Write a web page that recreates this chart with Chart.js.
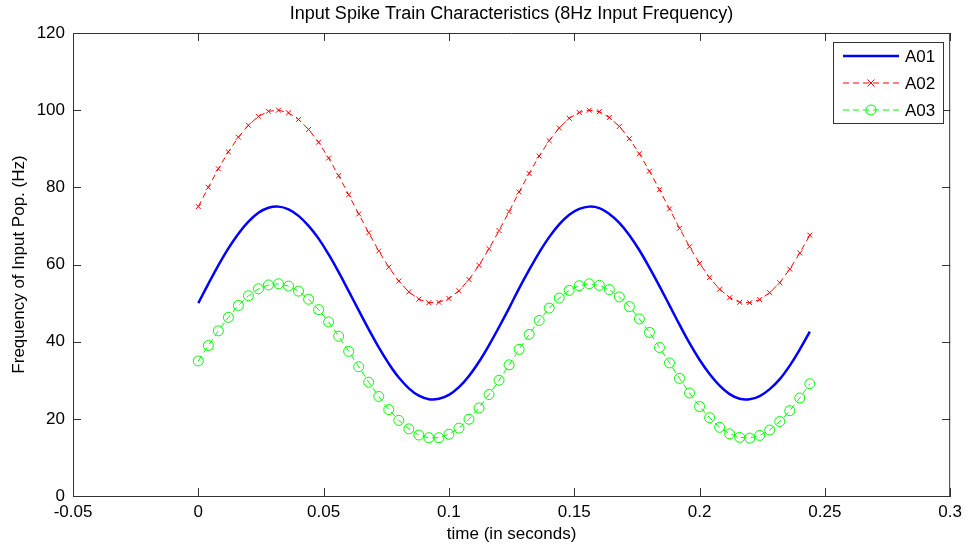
<!DOCTYPE html>
<html>
<head>
<meta charset="utf-8">
<script src="https://cdn.jsdelivr.net/npm/chart.js@4.4.1/dist/chart.umd.min.js"></script>
<style>
html,body{margin:0;padding:0;background:#fff;}
#wrap{width:968px;height:549px;position:relative;}
</style>
</head>
<body>
<div id="wrap"><canvas id="c" width="968" height="549"></canvas></div>
<script>
const titleText = 'Input Spike Train Characteristics (8Hz Input Frequency)';
const xTitle = 'time (in seconds)';
const yTitle = 'Frequency of Input Pop. (Hz)';
const seriesNames = ['A01', 'A02', 'A03'];
const xTickLabels = ['-0.05', '0', '0.05', '0.1', '0.15', '0.2', '0.25', '0.3'];
const yTickLabels = ['0', '20', '40', '60', '80', '100', '120'];

const timeVals = [0.000,0.004,0.008,0.012,0.016,0.020,0.024,0.028,0.032,0.036,
  0.040,0.044,0.048,0.052,0.056,0.060,0.064,0.068,0.072,0.076,
  0.080,0.084,0.088,0.092,0.096,0.100,0.104,0.108,0.112,0.116,
  0.120,0.124,0.128,0.132,0.136,0.140,0.144,0.148,0.152,0.156,
  0.160,0.164,0.168,0.172,0.176,0.180,0.184,0.188,0.192,0.196,
  0.200,0.204,0.208,0.212,0.216,0.220,0.224,0.228,0.232,0.236,
  0.240,0.244];

const a01 = [50.0,55.0,59.8,64.2,68.0,71.1,73.4,74.7,75.0,74.3,
  72.6,70.0,66.7,62.6,58.0,53.1,48.1,43.2,38.5,34.3,
  30.7,27.9,26.0,25.1,25.2,26.2,28.2,31.1,34.8,39.1,
  43.8,48.7,53.8,58.6,63.1,67.1,70.4,72.9,74.4,75.0,
  74.6,73.1,70.8,67.6,63.7,59.2,54.4,49.4,44.4,39.6,
  35.3,31.6,28.6,26.4,25.2,25.1,25.9,27.7,30.3,33.8,
  38.0,42.6];

const a02 = [75.0,80.0,84.8,89.2,93.0,96.1,98.4,99.7,100.0,99.3,
  97.6,95.0,91.7,87.6,83.0,78.1,73.1,68.2,63.5,59.3,
  55.7,52.9,51.0,50.1,50.2,51.2,53.2,56.1,59.8,64.1,
  68.8,73.7,78.8,83.6,88.1,92.1,95.4,97.9,99.4,100.0,
  99.6,98.1,95.8,92.6,88.7,84.2,79.4,74.4,69.4,64.6,
  60.3,56.6,53.6,51.4,50.2,50.1,50.9,52.7,55.3,58.8,
  63.0,67.6];

const a03 = [35.0,39.0,42.8,46.3,49.4,51.9,53.7,54.7,55.0,54.4,
  53.1,51.0,48.3,45.1,41.4,37.5,33.5,29.5,25.8,22.4,
  19.6,17.4,15.8,15.1,15.1,16.0,17.6,19.9,22.8,26.3,
  30.0,34.0,38.0,41.9,45.5,48.7,51.3,53.3,54.5,55.0,
  54.6,53.5,51.6,49.1,45.9,42.4,38.5,34.5,30.5,26.7,
  23.2,20.3,17.8,16.1,15.2,15.0,15.7,17.1,19.3,22.1,
  25.4,29.1];

function pairs(ys){ return timeVals.map((t,i)=>({x:t, y:ys[i]})); }

const FONT = '"Liberation Sans", Arial, Helvetica, sans-serif';
const AXIS = '#333333';

const styles = [
  {color:'#0000ff', width:2.5, dash:[], point:false, pstyle:'line', pr:0},
  {color:'#ff0000', width:1, dash:[6,4], point:true, pstyle:'crossRot', pr:3.5},
  {color:'#00ff00', width:1, dash:[6,4], point:true, pstyle:'circle', pr:5}
];

const boxPlugin = {
  id:'boxTicks',
  afterDatasetsDraw(chart){
    const ctx = chart.ctx, a = chart.chartArea;
    const xs = chart.scales.x, ys = chart.scales.y;
    ctx.save();
    ctx.strokeStyle = AXIS; ctx.lineWidth = 1;
    ctx.beginPath();
    ctx.moveTo(a.left, a.top+0.5); ctx.lineTo(a.right, a.top+0.5);
    ctx.moveTo(a.right-0.5, a.top); ctx.lineTo(a.right-0.5, a.bottom);
    const L = 8;
    xs.ticks.forEach(t=>{
      const px = Math.round(xs.getPixelForValue(t.value))+0.5;
      ctx.moveTo(px, a.bottom); ctx.lineTo(px, a.bottom-L);
      ctx.moveTo(px, a.top); ctx.lineTo(px, a.top+L);
    });
    ys.ticks.forEach(t=>{
      const py = Math.round(ys.getPixelForValue(t.value))+0.5;
      ctx.moveTo(a.left, py); ctx.lineTo(a.left+L, py);
      ctx.moveTo(a.right, py); ctx.lineTo(a.right-L, py);
    });
    ctx.stroke();
    ctx.restore();
  },
  afterDraw(chart){
    const ctx = chart.ctx, a = chart.chartArea;
    ctx.save();
    // title centred over the plot box
    ctx.fillStyle = '#000';
    ctx.font = '18px ' + FONT;
    ctx.textAlign = 'center';
    ctx.textBaseline = 'middle';
    ctx.fillText(titleText, (a.left + a.right) / 2, 14);

    const bx = 833.5, by = 42.5, bw = 110, bh = 81;
    ctx.fillStyle = '#ffffff';
    ctx.fillRect(bx, by, bw, bh);
    ctx.strokeStyle = AXIS; ctx.lineWidth = 1;
    ctx.strokeRect(bx, by, bw, bh);
    const rows = [56, 83, 110];
    seriesNames.forEach((name,i)=>{
      const s = styles[i], y = rows[i];
      ctx.strokeStyle = s.color; ctx.lineWidth = s.width;
      ctx.setLineDash(s.dash);
      ctx.beginPath(); ctx.moveTo(843, y); ctx.lineTo(899, y); ctx.stroke();
      ctx.setLineDash([]);
      if (s.point){
        ctx.lineWidth = 1;
        ctx.beginPath();
        if (s.pstyle === 'circle'){
          ctx.arc(871, y, s.pr, 0, Math.PI*2);
        } else {
          const r = s.pr;
          ctx.moveTo(871-r, y-r); ctx.lineTo(871+r, y+r);
          ctx.moveTo(871-r, y+r); ctx.lineTo(871+r, y-r);
        }
        ctx.stroke();
      }
      ctx.fillStyle = '#000';
      ctx.font = '17px ' + FONT;
      ctx.textBaseline = 'middle';
      ctx.textAlign = 'left';
      ctx.fillText(name, 905, y+1);
    });
    ctx.restore();
  }
};

const datasets = [a01, a02, a03].map((ys,i)=>{
  const s = styles[i];
  return {
    label: seriesNames[i],
    data: pairs(ys),
    borderColor: s.color,
    backgroundColor: 'rgba(0,0,0,0)',
    borderWidth: s.width,
    borderDash: s.dash,
    pointStyle: s.point ? s.pstyle : false,
    pointRadius: s.pr,
    pointBorderColor: s.color,
    pointBackgroundColor: 'rgba(0,0,0,0)',
    pointBorderWidth: 1,
    tension: i === 0 ? 0.4 : 0,
    fill: false
  };
});

new Chart(document.getElementById('c'), {
  type: 'line',
  data: { datasets },
  options: {
    responsive: false,
    animation: false,
    devicePixelRatio: 1,
    layout: { padding: { top: 33, right: 16, left: 0, bottom: 0 } },
    plugins: {
      legend: { display: false },
      tooltip: { enabled: false },
      title: { display: false }
    },
    scales: {
      x: {
        type: 'linear', min: -0.05, max: 0.3,
        afterFit(s){ s.height = 53; },
        grid: { display: false, drawTicks: false },
        border: { display: true, color: AXIS, width: 1 },
        ticks: {
          stepSize: 0.05, padding: 6, color: '#000', maxRotation: 0, autoSkip: false,
          font: { family: FONT, size: 17 },
          callback: (v, i) => xTickLabels[i]
        },
        title: {
          display: true, text: xTitle, color: '#000',
          font: { family: FONT, size: 17 },
          padding: { top: 0, bottom: 4 }
        }
      },
      y: {
        type: 'linear', min: 0, max: 120,
        afterFit(s){ s.width = 73; },
        grid: { display: false, drawTicks: false },
        border: { display: true, color: AXIS, width: 1 },
        ticks: {
          stepSize: 20, padding: 8, color: '#000', autoSkip: false,
          font: { family: FONT, size: 17 },
          callback: (v, i) => yTickLabels[i]
        },
        title: {
          display: true, text: yTitle, color: '#000',
          font: { family: FONT, size: 17 },
          padding: { top: 9, bottom: 0 }
        }
      }
    }
  },
  plugins: [boxPlugin]
});
</script>
</body>
</html>
